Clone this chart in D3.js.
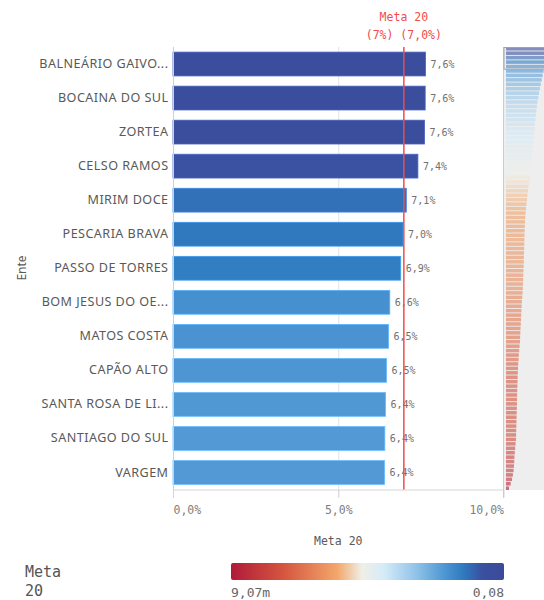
<!DOCTYPE html>
<html><head><meta charset="utf-8">
<script src="https://cdn.jsdelivr.net/npm/d3@7"></script>
<style>
html,body{margin:0;padding:0;background:#fff;}
svg{display:block;}
.mono{font-family:"DejaVu Sans Mono",monospace;}
.sans{font-family:"Noto Sans","Open Sans",sans-serif;}
</style></head>
<body>
<svg id="chart" width="544" height="600"></svg>
<script>
// ---------------- data ----------------
const categories = ["BALNEÁRIO GAIVO...", "BOCAINA DO SUL", "ZORTEA", "CELSO RAMOS", "MIRIM DOCE",
  "PESCARIA BRAVA", "PASSO DE TORRES", "BOM JESUS DO OE...", "MATOS COSTA", "CAPÃO ALTO",
  "SANTA ROSA DE LI...", "SANTIAGO DO SUL", "VARGEM"];
const values = [7.64, 7.63, 7.61, 7.41, 7.06, 6.96, 6.89, 6.56, 6.52, 6.46, 6.43, 6.41, 6.40]; // %
const xTicks = [0, 5, 10];
const metaValue = 7.0;
const metaLabel = ["Meta 20", "(7%) (7,0%)"];
const xTitle = "Meta 20";
const yTitle = "Ente";
const legendTitle = ["Meta", "20"];
const legendMinLabel = "9,07m";
const legendMaxLabel = "0,08";
const colorMin = 0.907, colorMax = 8.0; // % (9,07m .. 0,08)
const totalEntes = 266;
// overview (mini chart) values, sampled down the full sorted list, %
const overviewValues = [7.64,7.5,7.15,6.95,6.6,6.45,6.3,6.15,6.0,5.85,5.72,5.6,5.48,5.38,5.3,5.22,5.15,5.08,5.01,4.95,
  4.88,4.81,4.75,4.68,4.62,4.57,4.5,4.42,4.33,4.24,4.15,4.05,3.96,3.88,3.8,3.72,3.65,3.58,3.53,3.49,
  3.46,3.43,3.41,3.39,3.37,3.35,3.33,3.31,3.29,3.27,3.24,3.21,3.19,3.17,3.14,3.09,3.04,2.99,2.95,2.91,
  2.88,2.85,2.81,2.77,2.74,2.71,2.68,2.62,2.56,2.5,2.45,2.4,2.37,2.34,2.31,2.29,2.27,2.25,2.23,2.21,
  2.2,2.18,2.16,2.14,2.12,2.1,2.08,2.06,2.05,1.98,1.92,1.86,1.8,1.76,1.73,1.66,1.55,1.41,1.2,0.93];
const gradStops = [[0,"#b01a3a"],[0.19,"#d4553f"],[0.39,"#f3a76b"],[0.48,"#efefe8"],[0.56,"#d6ebf7"],
  [0.68,"#8fc2e8"],[0.78,"#4f97d4"],[0.85,"#2f7bc0"],[0.92,"#3a50a0"],[1,"#3b4a98"]];

// ---------------- setup ----------------
const loc = d3.formatLocale({decimal:",", thousands:".", grouping:[3], currency:["R$",""]});
const f1 = loc.format(".1f");
const svg = d3.select("#chart");

const plot = {left:173, right:503.5, top:47, bottom:489.5};
const x = d3.scaleLinear().domain([0,10]).range([plot.left, plot.right]);
const y = d3.scaleBand().domain(categories).range([plot.top, plot.bottom]).paddingInner(0.3).paddingOuter(0.15);

const tScale = d3.scaleLinear().domain([colorMin, colorMax]).range([0,1]).clamp(true);
const gradInterp = d3.scaleLinear().domain(gradStops.map(d=>d[0])).range(gradStops.map(d=>d[1])).interpolate(d3.interpolateRgb);
const color = v => gradInterp(tScale(v));

// gridline at 5%
svg.append("g").selectAll("line").data(xTicks.filter(d=>d>0 && d<10)).join("line")
  .attr("x1", d=>x(d)+0.5).attr("x2", d=>x(d)+0.5)
  .attr("y1", plot.top).attr("y2", plot.bottom+8)
  .attr("stroke", "#e3e3e3");

// bars
svg.append("g").selectAll("rect").data(values).join("rect")
  .attr("x", x(0)).attr("y", (d,i)=>y(categories[i]))
  .attr("width", d=>x(d)-x(0)).attr("height", y.bandwidth())
  .attr("fill", d=>color(d))
  .attr("stroke", d=>d3.color(color(d)).brighter(0.6)).attr("stroke-width", 0.8);

// value labels
svg.append("g").selectAll("text").data(values).join("text")
  .attr("class","mono")
  .attr("x", d=>x(d)+5).attr("y", (d,i)=>y(categories[i])+y.bandwidth()/2)
  .attr("dy","0.35em").attr("font-size",10).attr("fill","#707070")
  .text(d=>f1(d)+"%");

// y axis
const yAxis = svg.append("g").attr("transform",`translate(${plot.left+0.5},0)`)
  .call(d3.axisLeft(y).tickSize(0).tickPadding(5));
yAxis.select(".domain").attr("stroke","#cfcfcf").attr("d",`M0,${plot.top}V${plot.bottom+8}`);
yAxis.selectAll("text").attr("class","sans").attr("font-size",12.6).attr("letter-spacing","0.45px").attr("fill","#595959");

// x axis
const xAxis = svg.append("g").attr("transform",`translate(0,${plot.bottom})`)
  .call(d3.axisBottom(x).tickValues(xTicks).tickSize(8).tickPadding(8).tickFormat(d=>f1(d)+"%"));
xAxis.select(".domain").attr("stroke","#d6d6d6").attr("d",`M${plot.left},0.5H${plot.right}`);
xAxis.selectAll(".tick line").attr("stroke","#d6d6d6");
xAxis.selectAll(".tick text").attr("class","mono").attr("font-size",11.5).attr("fill","#808080")
  .attr("text-anchor",(d,i)=> i===0 ? "start" : (i===xTicks.length-1 ? "end" : "middle"));

// axis titles
svg.append("text").attr("class","mono").attr("x",(plot.left+plot.right)/2).attr("y",541)
  .attr("dy","0.35em").attr("text-anchor","middle").attr("font-size",11.5).attr("fill","#595959").text(xTitle);
svg.append("text").attr("class","sans").attr("transform","translate(22,268) rotate(-90)")
  .attr("dy","0.35em").attr("text-anchor","middle").attr("font-size",12).attr("fill","#595959").text(yTitle);

// meta reference line
svg.append("line").attr("x1",x(metaValue)-0.5).attr("x2",x(metaValue)-0.5)
  .attr("y1",plot.top).attr("y2",plot.bottom).attr("stroke","#f24b4b").attr("stroke-width",1.5);
svg.append("g").selectAll("text").data(metaLabel).join("text")
  .attr("class","mono").attr("x",x(metaValue)-0.5).attr("y",(d,i)=>17+i*18)
  .attr("dy","0.35em").attr("text-anchor","middle").attr("font-size",11.5).attr("fill","#f24b4b").text(d=>d);

// ---------------- overview panel ----------------
const ov = {left:503.5, right:544, top:47, bottom:490};
const defs = svg.append("defs");
defs.append("clipPath").attr("id","ovclip").append("rect")
  .attr("x",ov.left).attr("y",ov.top).attr("width",ov.right-ov.left).attr("height",ov.bottom-ov.top);
svg.append("rect").attr("x",ov.left).attr("y",ov.top).attr("width",ov.right-ov.left).attr("height",ov.bottom-ov.top)
  .attr("fill","#eeeeee");
const ox = d3.scaleLinear().domain([0.45,10]).range([506,565.8]);
const oy = d3.scaleBand().domain(d3.range(overviewValues.length)).range([ov.top, ov.bottom]).paddingInner(0.2);
svg.append("g").attr("clip-path","url(#ovclip)").selectAll("rect").data(overviewValues).join("rect")
  .attr("x",ox.range()[0]).attr("y",(d,i)=>oy(i)).attr("width",d=>ox(d)-ox.range()[0]).attr("height",oy.bandwidth())
  .attr("fill",d=>color(d)).attr("opacity",0.6);
svg.append("line").attr("x1",ov.left).attr("x2",ov.left).attr("y1",ov.top).attr("y2",ov.bottom+8)
  .attr("stroke","#cccccc");
const vpH = (ov.bottom-ov.top)*categories.length/totalEntes;
svg.append("rect").attr("x",ov.left+0.5).attr("y",ov.top+0.5).attr("width",ov.right-ov.left+2).attr("height",vpH)
  .attr("fill","none").attr("stroke","#a3a3a3").attr("stroke-width",1);

// ---------------- legend ----------------
const lg = defs.append("linearGradient").attr("id","lg").attr("x1","0%").attr("x2","100%");
lg.selectAll("stop").data(gradStops).join("stop").attr("offset",d=>d[0]*100+"%").attr("stop-color",d=>d[1]);
svg.append("rect").attr("x",231).attr("y",563).attr("width",273).attr("height",17).attr("rx",2)
  .attr("fill","url(#lg)");
svg.append("g").selectAll("text").data(legendTitle).join("text")
  .attr("class","mono").attr("x",25).attr("y",(d,i)=>572+i*19).attr("dy","0.35em")
  .attr("font-size",15).attr("fill","#555").text(d=>d);
svg.append("text").attr("class","mono").attr("x",231).attr("y",592).attr("dy","0.35em")
  .attr("font-size",13).attr("fill","#666").text(legendMinLabel);
svg.append("text").attr("class","mono").attr("x",504).attr("y",592).attr("dy","0.35em").attr("text-anchor","end")
  .attr("font-size",13).attr("fill","#666").text(legendMaxLabel);
</script>
</body></html>
